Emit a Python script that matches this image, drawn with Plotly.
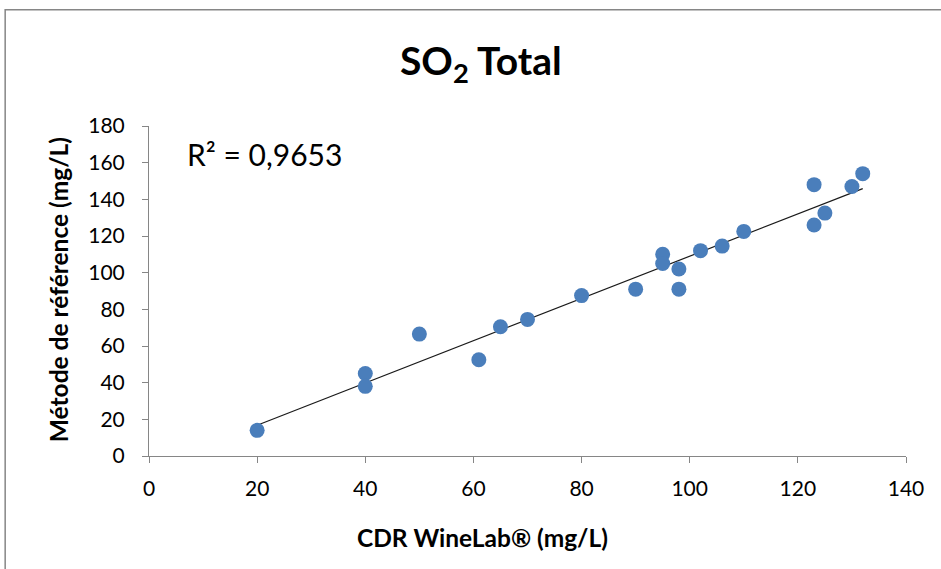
import numpy as np
import plotly.graph_objects as go

cdr_winelab = [20, 40, 40, 50, 61, 65, 70, 80, 90, 95, 95, 98, 98, 102, 106, 110, 123, 123, 125, 130, 132]
methode_ref = [14, 45, 38, 66.5, 52.5, 70.5, 74.5, 87.5, 91, 110, 105, 102, 91, 112, 114.5, 122.5, 148, 126, 132.5, 147, 154]
x_ticks = [0, 20, 40, 60, 80, 100, 120, 140]
y_ticks = [0, 20, 40, 60, 80, 100, 120, 140, 160, 180]

x = np.array(cdr_winelab, dtype=float)
y = np.array(methode_ref, dtype=float)
slope, intercept = np.polyfit(x, y, 1)
xl = np.array([x.min(), x.max()])
yl = slope * xl + intercept

FONT = "Lato"

fig = go.Figure()
fig.add_trace(go.Scatter(x=xl, y=yl, mode="lines", line=dict(color="#1a1a1a", width=1.2),
                         hoverinfo="skip", showlegend=False))
fig.add_trace(go.Scatter(x=cdr_winelab, y=methode_ref, mode="markers",
                         marker=dict(color="#4A7EBB", size=15, line=dict(width=0)),
                         showlegend=False))

axis_common = dict(showgrid=False, zeroline=False, showline=True, linecolor="#868686",
                   linewidth=1, ticks="outside", ticklen=6, tickcolor="#868686",
                   tickfont=dict(family=FONT, size=21, color="#000000"))

fig.update_layout(
    width=941, height=569,
    margin=dict(l=149, r=35, t=126, b=113),
    paper_bgcolor="white", plot_bgcolor="white",
    title=dict(text="<b>SO<sub>2</sub> Total</b>", x=0.511, xanchor="center", y=0.893, yanchor="middle",
               font=dict(family=FONT, size=39, color="#000000")),
    xaxis=dict(range=[0, 140], tickvals=x_ticks, ticklabelstandoff=8, **axis_common),
    yaxis=dict(range=[0, 180], tickvals=y_ticks, ticklabelstandoff=13, **axis_common),
    annotations=[
        dict(text="R² = 0,9653", x=0.047, y=0.915, xref="paper", yref="paper",
             xanchor="left", yanchor="middle", showarrow=False,
             font=dict(family=FONT, size=30, color="#000000")),
        dict(text="<b>CDR WineLab® (mg/L)</b>", x=0.441, y=-0.248, xref="paper", yref="paper",
             xanchor="center", yanchor="middle", showarrow=False,
             font=dict(family=FONT, size=24.5, color="#000000")),
        dict(text="<b>Métode de référence (mg/L)</b>", x=-0.12, y=0.503, xref="paper", yref="paper",
             xanchor="center", yanchor="middle", showarrow=False, textangle=-90,
             font=dict(family=FONT, size=24.5, color="#000000")),
    ],
    shapes=[dict(type="rect", xref="paper", yref="paper", x0=-0.19, x1=1.2, y0=-0.5, y1=1.352,
                 line=dict(color="#868686", width=1.5), fillcolor="rgba(0,0,0,0)", layer="below")],
)

fig.write_html("out.html", config={"displayModeBar": False},
               post_script="document.body.style.margin='0';")
